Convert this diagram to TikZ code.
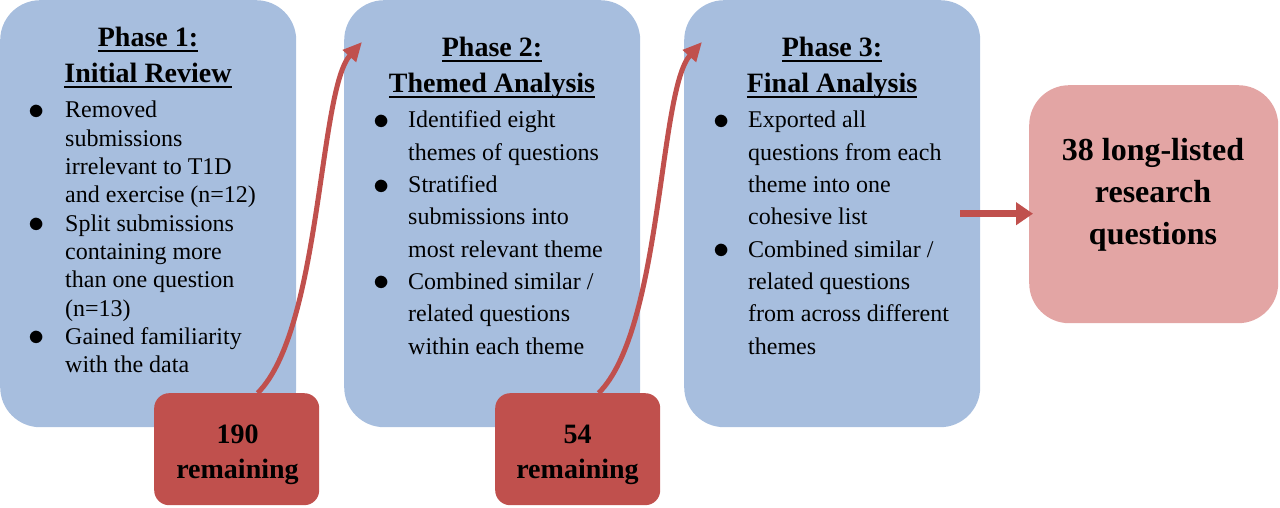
\documentclass[tikz,border=0pt]{standalone}
\usepackage{fontspec}
\setmainfont{Liberation Serif}
\usetikzlibrary{arrows.meta}
\definecolor{phaseblue}{RGB}{167,190,222}
\definecolor{countred}{RGB}{192,80,77}
\definecolor{resultpink}{RGB}{227,165,164}
\newcommand{\hdline}[1]{\sbox0{#1}\rlap{\rule[-5.5pt]{\wd0}{2.4pt}}\usebox0}
\newcommand{\itemdot}{\raisebox{-1.5pt}{\scalebox{1.3}{$\bullet$}}}

\begin{document}
\begin{tikzpicture}[x=1pt, y=1pt,
	phasebox/.style={fill=phaseblue, rounded corners=40pt, minimum width=296pt, minimum height=427pt, inner sep=0pt, anchor=north west},
	countbox/.style={fill=countred, rounded corners=15pt, minimum width=165pt, minimum height=112pt, inner sep=0pt, anchor=north west},
	resultbox/.style={fill=resultpink, rounded corners=40pt, minimum width=249pt, minimum height=238pt, inner sep=0pt, anchor=north west},
	headtext/.style={inner sep=0pt, anchor=base, font=\bfseries\fontsize{28}{36}\selectfont},
	bodytext/.style={inner sep=0pt, anchor=base west, font=\fontsize{24}{32.3}\selectfont},
	flowarrow/.style={draw=countred, line width=5pt, -{Triangle[length=19pt,width=17pt]}},
	outarrow/.style={draw=countred, line width=7pt, -{Triangle[length=17pt,width=22pt]}}]
	\useasboundingbox (0,0) rectangle (1280,507);

	% boxes
	\node[phasebox] (p1) at (0,507) {};
	\node[phasebox] (p2) at (344,507) {};
	\node[phasebox] (p3) at (684,507) {};
	\node[resultbox] (res) at (1029,422) {};
	\node[countbox] (r1) at (154,114) {};
	\node[countbox] (r2) at (495,114) {};

	% arrows
	\draw[flowarrow] ([xshift=21pt]r1.north) to[out=45, in=-132, out distance=90pt, in distance=65pt] ([xshift=18pt,yshift=-42pt]p2.north west);
	\draw[flowarrow] ([xshift=21pt]r2.north) to[out=45, in=-132, out distance=90pt, in distance=65pt] ([xshift=18pt,yshift=-42pt]p3.north west);
	\draw[outarrow, shorten >=-4pt] ([xshift=-20pt]p3.east) -- (p3.east -| res.west);

	% headings
	\node[headtext] (h1) at (148,460) {\begin{tabular}[t]{@{}c@{}}\hdline{Phase 1:}\\\hdline{Initial Review}\end{tabular}};
	\node[headtext] (h2) at (492,450) {\begin{tabular}[t]{@{}c@{}}\hdline{Phase 2:}\\\hdline{Themed Analysis}\end{tabular}};
	\node[headtext] (h3) at (832,450) {\begin{tabular}[t]{@{}c@{}}\hdline{Phase 3:}\\\hdline{Final Analysis}\end{tabular}};

	% lists
	\node[bodytext, font=\fontsize{24}{28.3}\selectfont] (b1) at (28,389) {\begin{tabular}[t]{@{}p{37pt}@{}l@{}}
		\itemdot & Removed\\
		 & submissions\\
		 & irrelevant to T1D\\
		 & and exercise (n=12)\\
		\itemdot & Split submissions\\
		 & containing more\\
		 & than one question\\
		 & (n=13)\\
		\itemdot & Gained familiarity\\
		 & with the data
	\end{tabular}};
	\node[bodytext] (b2) at (373,379) {\begin{tabular}[t]{@{}p{35pt}@{}l@{}}
		\itemdot & Identified eight\\
		 & themes of questions\\
		\itemdot & Stratified\\
		 & submissions into\\
		 & most relevant theme\\
		\itemdot & Combined similar /\\
		 & related questions\\
		 & within each theme
	\end{tabular}};
	\node[bodytext] (b3) at (713,379) {\begin{tabular}[t]{@{}p{35pt}@{}l@{}}
		\itemdot & Exported all\\
		 & questions from each\\
		 & theme into one\\
		 & cohesive list\\
		\itemdot & Combined similar /\\
		 & related questions\\
		 & from across different\\
		 & themes
	\end{tabular}};

	% counts and result
	\node[headtext, font=\bfseries\fontsize{28}{35}\selectfont] (t1) at (237.5,64) {\begin{tabular}[t]{@{}c@{}}190\\remaining\end{tabular}};
	\node[headtext, font=\bfseries\fontsize{28}{35}\selectfont] (t2) at (577.5,64) {\begin{tabular}[t]{@{}c@{}}54\\remaining\end{tabular}};
	\node[headtext, font=\bfseries\fontsize{32}{42}\selectfont] (t3) at (1153,346) {\begin{tabular}[t]{@{}c@{}}38 long-listed\\research\\questions\end{tabular}};
\end{tikzpicture}
\end{document}
